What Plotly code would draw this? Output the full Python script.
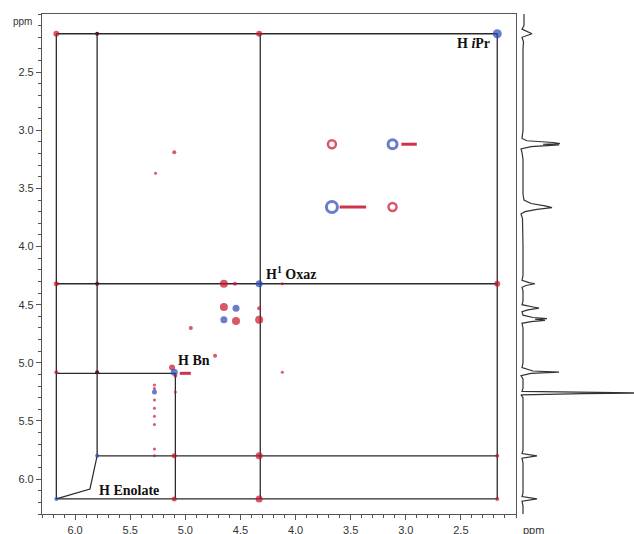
import plotly.graph_objects as go

# ---------------- data (ppm) ----------------
# diagonal (assigned) shifts
shift_iPr = 2.17
shift_oxaz = 4.32
shift_bn = 5.09
shift_enol_a = 5.80
shift_enol_b = 6.17

# axis tick labels
tick_vals = [2.5, 3.0, 3.5, 4.0, 4.5, 5.0, 5.5, 6.0]
tick_text = ["2.5", "3.0", "3.5", "4.0", "4.5", "5.0", "5.5", "6.0"]

# connection lines (horizontal): y, x-start, x-end
hline_y = [shift_iPr, shift_oxaz, shift_bn, shift_enol_a, shift_enol_b]
hline_x0 = [shift_enol_b, shift_enol_b, shift_enol_b, shift_enol_a, shift_enol_b]
hline_x1 = [shift_iPr, shift_iPr, shift_bn, shift_iPr, shift_iPr]
# connection lines (vertical): x, y-start, y-end
vline_x = [shift_enol_b, shift_enol_a, shift_oxaz, shift_iPr, shift_bn]
vline_y0 = [shift_iPr, shift_iPr, shift_iPr, shift_iPr, shift_bn]
vline_y1 = [shift_enol_b, shift_enol_a, shift_enol_b, shift_enol_b, shift_enol_b]

# red (cross) peaks
red_x = [6.17, 4.33, 2.17, 2.17, 2.17, 4.33, 4.33, 5.10, 5.10, 6.17, 6.17,
         4.65, 4.55, 4.12, 4.65, 4.54, 4.33, 4.33, 4.95, 4.73, 4.12, 5.12,
         5.09, 5.09, 5.27, 5.10,
         5.28, 5.28, 5.28, 5.28, 5.28, 5.28, 5.28, 5.28]
red_y = [2.17, 2.17, 4.32, 5.80, 6.17, 5.80, 6.17, 5.80, 6.17, 4.32, 5.08,
         4.32, 4.32, 4.32, 4.52, 4.64, 4.53, 4.63, 4.70, 4.94, 5.08, 5.04,
         5.11, 5.25, 3.37, 3.19,
         5.19, 5.22, 5.32, 5.39, 5.46, 5.53, 5.74, 5.80]
red_size = [6, 6, 6, 4, 4, 7, 7, 5, 5, 5, 4,
            8, 4, 3, 8, 8, 4, 8, 4, 4, 3, 6,
            4, 3, 3, 4,
            3, 3, 3, 3, 3, 3, 3, 3]
# dark cross peaks on the 5.80 column
dark_x = [5.80, 5.80, 5.80]
dark_y = [2.17, 4.32, 5.08]

# blue (diagonal) peaks
blue_x = [2.17, 4.33, 4.54, 4.65, 5.10, 5.28, 6.17, 5.80]
blue_y = [2.17, 4.32, 4.53, 4.63, 5.08, 5.25, 6.17, 5.80]
blue_size = [9, 7, 7, 7, 7, 5, 4, 4]

# ring-shaped peaks
ring_blue_x = [3.67, 3.12]
ring_blue_y = [3.66, 3.12]
ring_blue_size = [11, 9]
ring_red_x = [3.67, 3.12]
ring_red_y = [3.12, 3.66]
ring_red_size = [8, 8]

# red streaks: y, x-start, x-end
streak_y = [3.12, 3.66, 5.09]
streak_x0 = [3.04, 3.60, 5.05]
streak_x1 = [2.90, 3.36, 4.95]

# 1D projection spectrum
spec_ppm = [2.00, 2.10, 2.13, 2.17, 2.20, 2.24, 2.30, 2.60, 3.00, 3.07, 3.09,
            3.105, 3.115, 3.12, 3.125, 3.13, 3.14, 3.16, 3.19, 3.25, 3.55,
            3.60, 3.63, 3.65, 3.665, 3.68, 3.70, 3.72, 3.76, 4.00, 4.25, 4.29,
            4.31, 4.32, 4.335, 4.35, 4.38, 4.47, 4.50, 4.52, 4.53, 4.545, 4.56,
            4.59, 4.61, 4.62, 4.625, 4.635, 4.645, 4.66, 4.70, 5.00, 5.04, 5.07,
            5.08, 5.09, 5.11, 5.14, 5.22, 5.245, 5.255, 5.26, 5.265, 5.275,
            5.30, 5.75, 5.78, 5.80, 5.82, 5.86, 6.12, 6.15, 6.17, 6.19, 6.23,
            6.30]
spec_int = [1, 1, -1, 9, -1, 0.5, 0, 0, 0, -1, 4,
            30, 37, 20, 36, 28, 8, -2, -1, 0, 0,
            1, 8, 22, 29, 14, 2, -2, -0.5, 0, 0, -1,
            6, 12, 3, -1, 0, 0, -1, 10, 16, 5, -1,
            0, 10, 24, 12, 22, 8, -1, 0, 0, -1, 10,
            36, 8, -2, 0, 0, -1, 60, 118, 60, -2,
            0, 0, -1, 14, -1, 0, 0, -1, 14, -1, 0,
            0]

# labels
label_text = ["<b>H <i>i</i>Pr</b>", "<b>H<sup>1</sup> Oxaz</b>", "<b>H Bn</b>", "<b>H Enolate</b>"]
label_x = [2.22, 4.29, 5.08, 5.80]
label_y = [2.25, 4.225, 4.98, 6.10]
label_anchor = ["right", "left", "left", "left"]
leader_x = [shift_enol_b, 5.865, shift_enol_a]
leader_y = [shift_enol_b, 6.085, shift_enol_a]

RED = "#c8102a"
BLUE = "#2a44b8"
DARK = "#5a1515"
LINE = "#2a2a2a"
AXIS = "#555555"

fig = go.Figure()

# connection lines
lx, ly = [], []
for y, a, b in zip(hline_y, hline_x0, hline_x1):
    lx += [a, b, None]
    ly += [y, y, None]
for x, a, b in zip(vline_x, vline_y0, vline_y1):
    lx += [x, x, None]
    ly += [a, b, None]
fig.add_trace(go.Scatter(x=lx, y=ly, mode="lines",
                         line=dict(color=LINE, width=1.3), hoverinfo="skip"))

# leader line
fig.add_trace(go.Scatter(x=leader_x, y=leader_y, mode="lines",
                         line=dict(color=LINE, width=1.2), hoverinfo="skip"))

# red streaks
sx, sy = [], []
for y, a, b in zip(streak_y, streak_x0, streak_x1):
    sx += [a, b, None]
    sy += [y, y, None]
fig.add_trace(go.Scatter(x=sx, y=sy, mode="lines",
                         line=dict(color=RED, width=3), opacity=0.85, hoverinfo="skip"))

fig.add_trace(go.Scatter(x=red_x, y=red_y, mode="markers",
                         marker=dict(color=RED, size=red_size, line=dict(width=0))))
fig.add_trace(go.Scatter(x=dark_x, y=dark_y, mode="markers",
                         marker=dict(color=DARK, size=4, line=dict(width=0))))
fig.add_trace(go.Scatter(x=blue_x, y=blue_y, mode="markers",
                         marker=dict(color=BLUE, size=blue_size, line=dict(width=0))))
fig.add_trace(go.Scatter(x=ring_blue_x, y=ring_blue_y, mode="markers",
                         marker=dict(symbol="circle-open", color=BLUE, size=ring_blue_size,
                                     line=dict(width=3, color=BLUE))))
fig.add_trace(go.Scatter(x=ring_red_x, y=ring_red_y, mode="markers",
                         marker=dict(symbol="circle-open", color=RED, size=ring_red_size,
                                     line=dict(width=2.5, color=RED))))

# 1D spectrum
fig.add_trace(go.Scatter(x=spec_int, y=spec_ppm, xaxis="x2", yaxis="y", mode="lines",
                         line=dict(color="#333333", width=1.2), hoverinfo="skip"))

for t, x, y, a in zip(label_text, label_x, label_y, label_anchor):
    fig.add_annotation(x=x, y=y, xref="x", yref="y", text=t, showarrow=False,
                       xanchor=a, yanchor="middle",
                       font=dict(family="Liberation Serif", size=14, color="#111111"))

fig.add_annotation(x=22 / 634, y=1 - 22 / 534, xref="paper", yref="paper", text="ppm",
                   showarrow=False, xanchor="center", yanchor="middle",
                   font=dict(family="Liberation Sans", size=10, color="#333333"))
fig.add_annotation(x=533 / 634, y=1 - 530 / 534, xref="paper", yref="paper", text="ppm",
                   showarrow=False, xanchor="center", yanchor="middle",
                   font=dict(family="Liberation Sans", size=11, color="#333333"))

axis_common = dict(
    range=[6.3, 2.0], showline=True, linecolor=AXIS, linewidth=1.2, mirror=True,
    ticks="outside", ticklen=5, tickwidth=1, tickcolor=AXIS,
    tickmode="array", tickvals=tick_vals, ticktext=tick_text,
    showgrid=False, zeroline=False, automargin=False,
    minor=dict(dtick=0.1, tick0=0, ticks="outside", ticklen=3, tickcolor=AXIS, showgrid=False),
    tickfont=dict(family="Liberation Sans", size=11, color="#333333"),
)

fig.update_layout(
    width=634, height=534,
    margin=dict(l=0, r=0, t=0, b=0, autoexpand=False),
    paper_bgcolor="white", plot_bgcolor="white",
    showlegend=False,
    xaxis=dict(domain=[42 / 634, 516 / 634], anchor="y", ticklabelstandoff=1, **axis_common),
    yaxis=dict(domain=[20 / 534, 520 / 534], anchor="x", **axis_common),
    xaxis2=dict(domain=[516 / 634, 1.0], range=[-7, 111], anchor="y",
                visible=False, showgrid=False, zeroline=False),
)

fig.write_html("out.html", config={"displayModeBar": False},
               post_script="document.body.style.margin='0px';document.body.style.overflow='hidden';")
